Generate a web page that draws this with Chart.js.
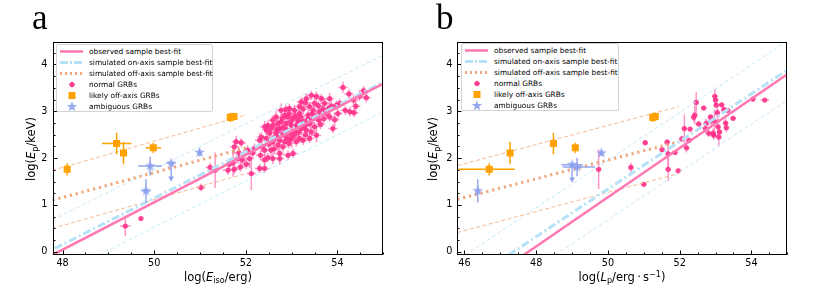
<!DOCTYPE html>
<html>
<head>
<meta charset="utf-8">
<script src="https://cdn.jsdelivr.net/npm/chart.js@4.4.1/dist/chart.umd.min.js"></script>
<style>
  body { margin: 0; width: 830px; height: 291px; background: #fff; position: relative; overflow: hidden; font-family: "DejaVu Sans", sans-serif; color: #000; }
  canvas { position: absolute; top: 0; }
  .tag { position: absolute; top: 0; font-family: "Liberation Serif", serif; font-size: 35px; line-height: 1; }
  .xt, .yt { position: absolute; font-size: 11.5px; white-space: nowrap; line-height: 1; }
  .xt { top: 272px; transform: translateX(-50%); }
  .yt { transform: translate(-50%, -50%) rotate(-90deg); }
  sub, sup { font-size: 70%; line-height: 0; }
  sub { vertical-align: -0.3em; }
  sup { vertical-align: 0.55em; }
  .legend { position: absolute; background: #fff; border: 1px solid #d4d4d4; border-radius: 2px; box-sizing: border-box; padding-top: 1px; font-size: 7.4px; }
  .legend .row { position: relative; height: 11.1px; line-height: 11.1px; white-space: nowrap; }
  .legend svg { position: absolute; left: 3px; top: 0; }
  .legend span { position: absolute; left: 32px; top: 0; }
</style>
</head>
<body>
<canvas id="chartA" width="415" height="291" style="left:0"></canvas>
<canvas id="chartB" width="415" height="291" style="left:415px"></canvas>

<div class="tag" style="left:32px">a</div>
<div class="tag" style="left:436px">b</div>
<div class="xt" style="left:218px">log(<i>E</i><sub>iso</sub>/erg)</div>
<div class="xt" style="left:622px">log(<i>L</i><sub>p</sub>/erg&thinsp;·&thinsp;s<sup>−1</sup>)</div>
<div class="yt" style="left:32px; top:149px">log(<i>E</i><sub>p</sub>/keV)</div>
<div class="yt" style="left:434px; top:149px">log(<i>E</i><sub>p</sub>/keV)</div>
<div class="legend" id="legA" style="left:56px; top:44px; width:157px; height:68px"></div>
<div class="legend" id="legB" style="left:461px; top:43px; width:158px; height:68px"></div>

<script>
// ticks
const xTicksA = [48, 50, 52, 54];
const xTicksB = [46, 48, 50, 52, 54];
const yTicks = [0, 1, 2, 3, 4];

const legendLabels = ['observed sample best-fit', 'simulated on-axis sample best-fit',
  'simulated off-axis sample best-fit', 'normal GRBs', 'likely off-axis GRBs', 'ambiguous GRBs'];

// best-fit lines (endpoints)
const fitObsA = [[47.78, -0.07], [55, 3.59]];
const fitOnA = [[47.83, 0.07], [55, 3.62]];
const fitOffA = [[47.78, 1.10], [52, 2.22]];
const offUpA = [[47.78, 1.74], [52, 2.92]];
const offLowA = [[47.78, 0.50], [52, 1.67]];
const onUpA = [[47.78, 0.68], [55, 4.20]];
const onLowA = [[48.80, -0.07], [55, 2.99]];

const fitObsB = [[47.65, -0.07], [55, 3.79]];
const fitOnB = [[47.23, -0.07], [55, 3.88]];
const fitOffB = [[45.80, 1.12], [51.97, 2.35]];
const offUpB = [[45.80, 1.84], [51.97, 3.10]];
const offLowB = [[45.80, 0.41], [51.97, 1.67]];
const onUpB = [[46.02, -0.07], [55, 4.50]];
const onLowB = [[48.53, -0.07], [55, 3.24]];

// points: [x, y, xerr, yerr, upperLimit]
const normalA = [
  [49.37,0.55,0.12,0.22],[49.71,0.71,0.04,0.04],[51.02,1.37,0.1,0.08],[51.22,1.80,0.1,0.1],[51.33,1.74,0.08,0.38],
  [51.61,1.74,0.12,0.1],[51.64,1.87,0.1,0.12],[51.72,1.90,0.1,0.3],[51.75,1.76,0.12,0.1],[51.75,2.24,0.1,0.15],
  [51.79,2.35,0.1,0.12],[51.83,1.99,0.1,0.1],[51.85,2.11,0.15,0.12],[51.88,1.81,0.1,0.1],[51.90,2.33,0.1,0.1],
  [51.92,1.96,0.1,0.12],[51.97,2.09,0.1,0.1],[52.01,1.87,0.1,0.1],[52.04,2.17,0.1,0.1],[52.08,1.99,0.1,0.2],
  [52.12,1.67,0.1,0.35],[52.15,2.11,0.08,0.1],[52.19,2.21,0.1,0.1],[52.30,1.78,0.1,0.1],[52.30,2.38,0.1,0.15],
  [52.32,2.06,0.1,0.1],[52.34,2.45,0.1,0.1],[52.41,1.78,0.1,0.1],[52.41,1.96,0.1,0.12],[52.41,2.17,0.1,0.1],
  [52.41,2.67,0.1,0.12],[52.45,2.42,0.1,0.1],[52.48,2.01,0.1,0.1],[52.48,2.70,0.1,0.1],[52.52,2.53,0.1,0.1],
  [52.55,2.17,0.1,0.15],[52.55,2.63,0.1,0.12],[52.59,1.99,0.1,0.12],[52.59,2.35,0.1,0.1],[52.59,2.81,0.1,0.1],
  [52.63,2.45,0.1,0.1],[52.66,2.56,0.1,0.1],[52.66,2.88,0.1,0.12],[52.70,2.28,0.1,0.15],[52.70,2.74,0.1,0.1],
  [52.74,2.10,0.1,0.25],[52.74,2.38,0.1,0.1],[52.74,2.63,0.1,0.1],[52.74,1.99,0.1,0.1],[52.77,2.49,0.1,0.12],
  [52.77,2.78,0.1,0.1],[52.77,3.02,0.1,0.15],[52.81,2.24,0.1,0.1],[52.85,2.35,0.1,0.1],[52.85,2.56,0.1,0.12],
  [52.85,2.92,0.1,0.1],[52.87,3.04,0.1,0.1],[52.88,2.45,0.1,0.15],[52.88,2.74,0.1,0.1],[52.92,2.06,0.1,0.1],
  [52.92,2.88,0.1,0.12],[52.94,2.31,0.1,0.1],[52.95,3.06,0.1,0.1],[52.96,2.53,0.1,0.1],[52.99,2.70,0.1,0.1],
  [53.00,2.42,0.1,0.2],[53.03,2.10,0.1,0.1],[53.03,2.85,0.1,0.1],[53.06,2.49,0.1,0.1],[53.06,3.02,0.1,0.12],
  [53.10,2.35,0.1,0.1],[53.10,2.67,0.1,0.15],[53.14,2.81,0.1,0.1],[53.17,2.42,0.1,0.1],[53.17,2.95,0.1,0.1],
  [53.17,3.10,0.1,0.1],[53.21,2.63,0.1,0.12],[53.21,3.20,0.1,0.1],[53.25,2.38,0.1,0.1],[53.25,2.78,0.1,0.1],
  [53.30,3.18,0.1,0.1],[53.32,2.60,0.1,0.1],[53.32,3.27,0.1,0.12],[53.33,2.74,0.1,0.1],[53.36,2.92,0.1,0.1],
  [53.39,2.42,0.1,0.1],[53.39,3.10,0.1,0.1],[53.43,2.56,0.1,0.12],[53.43,3.34,0.1,0.1],[53.47,2.85,0.1,0.1],
  [53.47,3.02,0.1,0.1],[53.50,2.67,0.1,0.1],[53.50,3.17,0.1,0.12],[53.54,2.49,0.1,0.15],[53.54,3.32,0.1,0.1],
  [53.59,2.81,0.1,0.1],[53.61,2.99,0.1,0.1],[53.65,3.27,0.1,0.1],[53.72,3.17,0.1,0.1],[53.76,2.95,0.1,0.1],
  [53.83,2.88,0.1,0.1],[53.83,3.27,0.1,0.12],[53.87,3.11,0.1,0.1],[53.90,2.63,0.1,0.1],[53.94,2.82,0.1,0.15],
  [53.98,3.13,0.1,0.1],[54.01,2.95,0.1,0.1],[54.05,3.17,0.1,0.1],[54.12,3.51,0.1,0.12],[54.17,3.02,0.1,0.1],
  [54.25,3.37,0.1,0.1],[54.27,2.99,0.1,0.1],[54.35,3.24,0.1,0.1],[54.36,2.97,0.1,0.1],[54.40,3.11,0.1,0.1],
  [54.48,3.32,0.1,0.1],[54.57,3.44,0.1,0.1],[54.63,3.29,0.1,0.1],
  [52.60,2.70,0.1,0.1],[52.68,2.62,0.1,0.12],[52.82,2.66,0.1,0.1],[52.90,2.60,0.1,0.1],[52.98,2.78,0.1,0.12],
  [53.05,2.58,0.1,0.1],[53.12,2.72,0.1,0.1],[53.15,2.55,0.1,0.12],[53.28,2.68,0.1,0.1],[53.35,2.83,0.1,0.1],
  [53.40,2.74,0.1,0.12],[53.45,2.95,0.1,0.1],[53.55,2.90,0.1,0.1],[53.63,2.72,0.1,0.1],[53.68,3.05,0.1,0.12],
  [53.80,3.05,0.1,0.1],[52.50,2.30,0.1,0.1],[52.62,2.20,0.1,0.12],[52.80,2.85,0.1,0.1],[52.95,2.95,0.1,0.1],
  [53.08,2.90,0.1,0.1],[53.20,2.88,0.1,0.12],[53.25,3.05,0.1,0.1],[53.58,3.12,0.1,0.1],[53.70,2.84,0.1,0.1],
  [52.35,2.25,0.1,0.12],[52.45,2.60,0.1,0.1],[52.70,2.50,0.1,0.1],[52.95,2.40,0.1,0.12],[53.30,2.50,0.1,0.1]
];
const offAxisA = [[48.10,1.76,0.04,0.13],[49.18,2.31,0.32,0.23],[49.33,2.11,0.08,0.24],[49.98,2.22,0.17,0.11],
  [51.66,2.87,0.04,0.1],[51.74,2.89,0.04,0.08]];
const ambigA = [[49.82,1.30,0.1,0.25],[49.91,1.83,0.26,0.2],[50.37,1.89,0.1,[0.37,0],true],[50.99,2.12,0.03,0.08]];

const normalB = [
  [49.74,1.76,0.08,0.42],[50.64,1.80,0.08,0.1],[51.00,1.44,0.08,0.05],[51.04,2.33,0.08,0.05],[51.51,2.18,0.08,0.05],
  [51.65,2.34,0.08,0.05],[51.68,2.09,0.08,0.3],[51.68,1.76,0.08,0.25],[51.87,2.12,0.08,0.05],[51.96,1.73,0.08,0.05],
  [52.06,2.41,0.08,0.05],[52.13,2.63,0.08,0.3],[52.19,2.22,0.08,0.1],[52.26,2.38,0.08,0.05],[52.29,2.62,0.08,0.05],
  [52.39,2.87,0.08,0.1],[52.42,2.92,0.08,0.2],[52.46,3.19,0.08,0.22],[52.53,2.73,0.08,0.05],[52.67,3.07,0.08,0.05],
  [52.72,2.63,0.08,0.1],[52.74,2.74,0.08,0.1],[52.86,2.88,0.08,0.05],[52.88,2.80,0.08,0.1],[52.93,2.53,0.08,0.1],
  [52.97,2.79,0.08,0.25],[52.98,3.32,0.08,0.15],[53.00,3.24,0.08,0.1],[53.02,3.13,0.08,0.05],[53.05,2.97,0.08,0.1],
  [53.07,2.67,0.08,0.2],[53.09,2.45,0.08,0.2],[53.17,3.14,0.08,0.05],[53.23,3.04,0.08,0.05],[53.28,2.75,0.08,0.1],
  [53.30,2.65,0.08,0.1],[53.34,3.02,0.08,0.05],[53.49,2.85,0.08,0.05],[54.04,3.26,0.08,0.05],[54.37,3.24,0.12,0.03],
  [52.81,2.53,0.08,0.08],[53.11,2.56,0.08,0.1],[52.95,2.49,0.08,0.1]
];
const offAxisB = [[46.69,1.76,[0.86,0.71],0.13],[47.27,2.11,0.04,0.24],[48.48,2.31,0.06,0.23],[49.09,2.22,0.05,0.11],
  [51.25,2.87,0.05,0.1],[51.32,2.89,0.05,0.08]];
const ambigB = [[46.37,1.30,0.04,0.25],[49.00,1.86,0.3,[0.36,0],true],[49.14,1.81,[0.4,0.5],0.2],[49.82,2.11,0.04,0.06]];

const pink = 'rgba(255,45,135,0.85)';
const pinkErr = 'rgba(255,115,180,0.75)';
const orange = '#ffa200';
const lilac = 'rgba(140,158,238,0.9)';

function starCanvas(r, color) {
  const c = document.createElement('canvas');
  const s = Math.ceil(r * 2 + 2);
  c.width = s; c.height = s;
  const g = c.getContext('2d');
  g.fillStyle = color;
  g.beginPath();
  for (let i = 0; i < 10; i++) {
    const rad = i % 2 ? r * 0.42 : r;
    const a = -Math.PI / 2 + i * Math.PI / 5;
    g.lineTo(s / 2 + rad * Math.cos(a), s / 2 + rad * Math.sin(a));
  }
  g.closePath();
  g.fill();
  return c;
}
const star = starCanvas(5.5, lilac);

// error bars drawn just before each dataset's markers
const errorBars = {
  id: 'errorBars',
  beforeDatasetDraw(chart, args) {
    const ds = chart.data.datasets[args.index];
    if (!ds.errors) return;
    const { ctx, chartArea: a, scales: { x, y } } = chart;
    ctx.save();
    ctx.beginPath();
    ctx.rect(a.left, a.top, a.right - a.left, a.bottom - a.top);
    ctx.clip();
    ctx.strokeStyle = ds.errColor;
    ctx.fillStyle = ds.errColor;
    ctx.lineWidth = ds.errWidth;
    ds.errors.forEach(p => {
      const ex = Array.isArray(p[2]) ? p[2] : [p[2], p[2]];
      const ey = Array.isArray(p[3]) ? p[3] : [p[3], p[3]];
      const px = x.getPixelForValue(p[0]), py = y.getPixelForValue(p[1]);
      ctx.beginPath();
      ctx.moveTo(x.getPixelForValue(p[0] - ex[0]), py);
      ctx.lineTo(x.getPixelForValue(p[0] + ex[1]), py);
      ctx.moveTo(px, y.getPixelForValue(p[1] - ey[0]));
      ctx.lineTo(px, y.getPixelForValue(p[1] + ey[1]));
      ctx.stroke();
      if (p[4]) {
        const by = y.getPixelForValue(p[1] - ey[0]);
        ctx.beginPath();
        ctx.moveTo(px - 3, by - 4);
        ctx.lineTo(px + 3, by - 4);
        ctx.lineTo(px, by + 1);
        ctx.closePath();
        ctx.fill();
      }
    });
    ctx.restore();
  }
};

// box + inward ticks
const frame = {
  id: 'frame',
  afterDraw(chart) {
    const { ctx, chartArea: a, scales: { x, y } } = chart;
    const L = Math.round(a.left) + 0.5, R = Math.round(a.right) - 0.5;
    const T = Math.round(a.top) + 0.5, B = Math.round(a.bottom) - 0.5;
    ctx.save();
    ctx.strokeStyle = '#000';
    ctx.lineWidth = 1;
    ctx.beginPath();
    for (let v = Math.ceil(x.min * 2) / 2; v <= x.max; v += 0.5) {
      const px = Math.round(x.getPixelForValue(v)) + 0.5;
      const len = v % 2 === 0 ? 4 : 2;
      ctx.moveTo(px, B); ctx.lineTo(px, B - len);
    }
    for (let v = Math.ceil(y.min * 4) / 4; v <= y.max; v += 0.25) {
      const py = Math.round(y.getPixelForValue(v)) + 0.5;
      const len = v % 1 === 0 ? 4 : 2;
      ctx.moveTo(L, py); ctx.lineTo(L + len, py);
    }
    ctx.stroke();
    ctx.strokeRect(L, T, R - L, B - T);
    ctx.restore();
  }
};

function lineDs(pts, color, width, dash, order) {
  return {
    data: pts.map(p => ({ x: p[0], y: p[1] })), showLine: true, borderColor: color,
    borderWidth: width, borderDash: dash, pointRadius: 0, fill: false, order: order
  };
}
function pointDs(rows, style, radius, color, errColor, errWidth, order) {
  return {
    data: rows.map(p => ({ x: p[0], y: p[1] })), errors: rows, errColor: errColor, errWidth: errWidth,
    pointStyle: style, pointRadius: radius, backgroundColor: color, borderWidth: 0, order: order
  };
}

function makeChart(id, d) {
  return new Chart(document.getElementById(id), {
    type: 'scatter',
    data: {
      datasets: [
        pointDs(d.normal, 'circle', 2.6, pink, pinkErr, 1.5, 20),
        lineDs(d.onUp, '#c4e8f9', 1, [4, 2.5], 9),
        lineDs(d.onLow, '#c4e8f9', 1, [4, 2.5], 9),
        lineDs(d.offUp, '#f6b994', 1, [4, 2.5], 9),
        lineDs(d.offLow, '#f6b994', 1, [4, 2.5], 9),
        lineDs(d.fitOff, '#f0a67a', 3, [2.2, 3.8], 8),
        lineDs(d.fitOn, '#b6e2f8', 3, [8, 3, 2, 3], 7),
        lineDs(d.fitObs, '#ff78b2', 2.5, [], 6),
        pointDs(d.offAxis, 'rect', 5, orange, orange, 1.5, 2),
        pointDs(d.ambig, star, 5, lilac, lilac, 1.5, 1)
      ]
    },
    options: {
      responsive: false,
      animation: false,
      events: [],
      layout: { padding: { left: 0, right: d.padRight, top: 42, bottom: 0 } },
      plugins: { legend: { display: false }, tooltip: { enabled: false } },
      scales: {
        x: {
          type: 'linear', min: d.xMin, max: 55,
          afterFit: s => { s.height = 36; },
          afterBuildTicks: s => { s.ticks = d.xTicks.map(v => ({ value: v })); },
          grid: { display: false, drawTicks: false }, border: { display: false },
          ticks: { color: '#000', padding: 3, maxRotation: 0, autoSkip: false, font: { family: 'DejaVu Sans', size: 9.7 } }
        },
        y: {
          type: 'linear', min: -0.07, max: 4.48,
          afterFit: s => { s.width = d.yWidth; },
          afterBuildTicks: s => { s.ticks = yTicks.map(v => ({ value: v })); },
          grid: { display: false, drawTicks: false }, border: { display: false },
          ticks: { color: '#000', padding: 5, font: { family: 'DejaVu Sans', size: 9.7 } }
        }
      }
    },
    plugins: [errorBars, frame]
  });
}

makeChart('chartA', {
  normal: normalA, offAxis: offAxisA, ambig: ambigA,
  fitObs: fitObsA, fitOn: fitOnA, fitOff: fitOffA, offUp: offUpA, offLow: offLowA, onUp: onUpA, onLow: onLowA,
  xMin: 47.78, xTicks: xTicksA, yWidth: 52.5, padRight: 31.7
});
makeChart('chartB', {
  normal: normalB, offAxis: offAxisB, ambig: ambigB,
  fitObs: fitObsB, fitOn: fitOnB, fitOff: fitOffB, offUp: offUpB, offLow: offLowB, onUp: onUpB, onLow: onLowB,
  xMin: 45.8, xTicks: xTicksB, yWidth: 42.3, padRight: 42.7
});

// legend boxes
const handles = [
  '<line x1="0" y1="5.5" x2="23" y2="5.5" stroke="#ff78b2" stroke-width="2.5"/>',
  '<line x1="0" y1="5.5" x2="23" y2="5.5" stroke="#b6e2f8" stroke-width="3" stroke-dasharray="8,2,2,2"/>',
  '<line x1="0" y1="5.5" x2="23" y2="5.5" stroke="#f0a67a" stroke-width="3" stroke-dasharray="2,3"/>',
  '<line x1="9" y1="5.5" x2="15" y2="5.5" stroke="' + pinkErr + '" stroke-width="1.4"/><line x1="12" y1="2.5" x2="12" y2="8.5" stroke="' + pinkErr + '" stroke-width="1.4"/><circle cx="12" cy="5.5" r="2.6" fill="' + pink + '"/>',
  '<rect x="8.5" y="2" width="7" height="7" fill="' + orange + '"/>',
  '<polygon points="12,0.2 13.3,4 17.2,4 14.1,6.4 15.2,10.3 12,8 8.8,10.3 9.9,6.4 6.8,4 10.7,4" fill="' + lilac + '"/>'
];
['legA', 'legB'].forEach(id => {
  document.getElementById(id).innerHTML = legendLabels.map((t, i) =>
    '<div class="row"><svg width="24" height="11" viewBox="0 0 24 11">' + handles[i] + '</svg><span>' + t + '</span></div>'
  ).join('');
});
</script>
</body>
</html>
